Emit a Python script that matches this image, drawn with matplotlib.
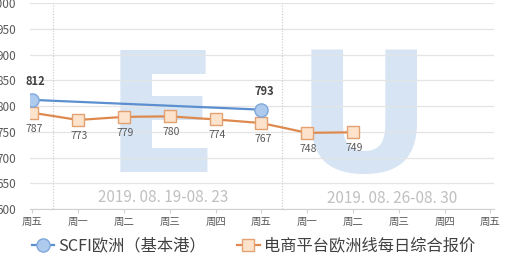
import matplotlib.pyplot as plt

plt.rcParams['font.family'] = ['Noto Sans CJK SC', 'DejaVu Sans']

# x axis: two trading weeks, Friday to Friday
days = ['周五', '周一', '周二', '周三', '周四', '周五',
        '周一', '周二', '周三', '周四', '周五']
weeks = ['2019. 08. 19-08. 23', '2019. 08. 26-08. 30']

# SCFI Europe (base port) - only two Friday readings
scfi_x = [0, 5]
scfi_y = [812, 793]

# e-commerce platform daily Europe quote
ecom_x = [0, 1, 2, 3, 4, 5, 6, 7]
ecom_y = [787, 773, 779, 780, 774, 767, 748, 749]

fig = plt.figure(figsize=(5.13, 2.59), dpi=100)
ax = fig.add_axes([0.0585, 0.193, 0.9045, 0.795])

# watermark letters
ax.text(0.284, 0.405, 'E', transform=ax.transAxes, fontsize=121, fontweight='bold',
        family='DejaVu Sans', color='#d6e4f4', ha='center', va='center', zorder=0)
ax.text(0.72, 0.405, 'U', transform=ax.transAxes, fontsize=121, fontweight='bold',
        family='DejaVu Sans', color='#d6e4f4', ha='center', va='center', zorder=0)

# week separators
for xv in [0.45, 5.45]:
    ax.axvline(xv, color='#c8c8c8', lw=0.8, ls=(0, (1, 1.5)), zorder=1)

ax.plot(scfi_x, scfi_y, color='#5b8fcf', lw=1.6, marker='o', markersize=9.5,
        markerfacecolor='#aecbee', markeredgecolor='#7ea8dc', zorder=4,
        label='SCFI欧洲（基本港）')
ax.plot(ecom_x, ecom_y, color='#de8a4f', lw=1.6, marker='s', markersize=8,
        markerfacecolor='#fde2cc', markeredgecolor='#e3a070', zorder=3,
        label='电商平台欧洲线每日综合报价')

for xv, yv in zip(scfi_x, scfi_y):
    ax.annotate(str(yv), (xv, yv), xytext=(2, 13), textcoords='offset points',
                ha='center', va='center', fontsize=8, fontweight='bold', color='#404040')
for xv, yv in zip(ecom_x, ecom_y):
    ax.annotate(str(yv), (xv, yv), xytext=(1, -11.5), textcoords='offset points',
                ha='center', va='center', fontsize=7.5, color='#595959')

ax.text(2.85, 622, weeks[0], fontsize=11, color='#c0c0c0', ha='center', va='center')
ax.text(7.85, 621, weeks[1], fontsize=11, color='#c0c0c0', ha='center', va='center')

ax.set_xlim(-0.05, 10.08)
ax.set_ylim(600, 1000)
ax.set_yticks(range(600, 1001, 50))
ax.set_xticks(range(len(days)))
ax.set_xticklabels(days)
ax.grid(axis='y', color='#e4e4e4', lw=0.9)
ax.set_axisbelow(True)
for s in ['top', 'right', 'left']:
    ax.spines[s].set_visible(False)
ax.spines['bottom'].set_color('#d0d0d0')
ax.tick_params(axis='y', length=0, pad=10, labelsize=8.5, labelcolor='#595959')
ax.tick_params(axis='x', length=3, color='#d0d0d0', pad=3, labelsize=7.5, labelcolor='#595959')

fig.legend(loc='center', bbox_to_anchor=(0.494, 0.05), ncol=2, frameon=False,
           fontsize=11.7, labelcolor='#404040', handlelength=1.4, handletextpad=0.25,
           columnspacing=1.9, borderaxespad=0)

fig.savefig('out.png', dpi=100)
